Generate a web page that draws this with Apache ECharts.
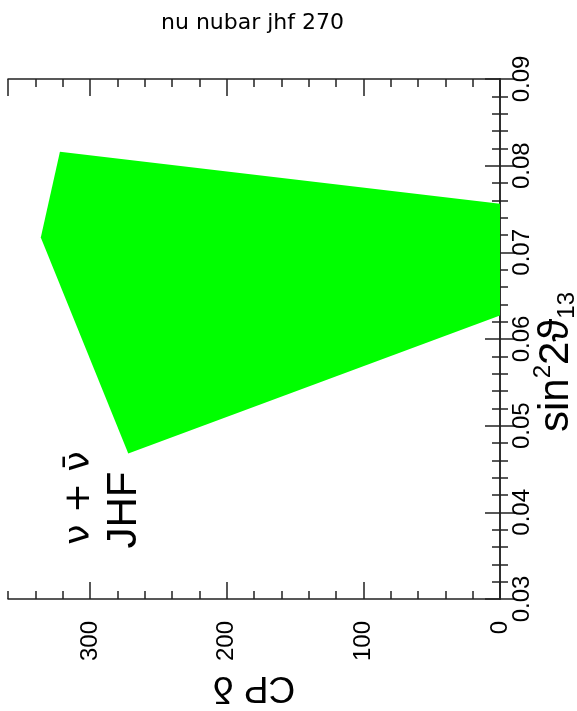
<!DOCTYPE html>
<html>
<head>
<meta charset="utf-8">
<script src="https://cdn.jsdelivr.net/npm/echarts@6/dist/echarts.min.js"></script>
<style>
html, body { margin: 0; padding: 0; background: #fff; }
#chart { width: 577px; height: 711px; }
</style>
</head>
<body>
<div id="chart"></div>
<script>
// allowed region boundary (CP phase in degrees vs sin^2 2theta13)
var cpDelta = [0, 272, 336, 322, 0]
var sin2t13 = [0.0627, 0.0468, 0.0717, 0.0816, 0.0756]

var cpLabels = [0, 100, 200, 300]
var sinLabels = [0.03, 0.04, 0.05, 0.06, 0.07, 0.08, 0.09]

var frameColor = '#222'
var labelFont = 'Liberation Sans, Arial, sans-serif'

function cpAxis (position, long, withLabels) {
  return {
    type: 'value',
    position: position,
    min: 0,
    max: 360,
    interval: long ? 100 : 20,
    inverse: true,
    z: 1,
    axisLine: { show: !long, lineStyle: { color: frameColor, width: 1.5 } },
    axisTick: { inside: true, length: long ? 17 : 8, lineStyle: { color: frameColor, width: 1.5 } },
    axisLabel: {
      show: withLabels,
      rotate: 90,
      margin: 22,
      color: '#000',
      fontFamily: labelFont,
      fontSize: 24,
      showMaxLabel: false,
      formatter: function (v) { return cpLabels.indexOf(v) >= 0 ? String(v) : '' }
    },
    splitLine: { show: false }
  }
}

function sinAxis (position, long, withLabels) {
  return {
    type: 'value',
    position: position,
    min: 0.03,
    max: 0.09,
    interval: long ? 0.01 : 0.002,
    z: 1,
    axisLine: { show: !long, lineStyle: { color: frameColor, width: 1.5 } },
    axisTick: { inside: true, length: long ? 15 : 8, lineStyle: { color: frameColor, width: 1.5 } },
    axisLabel: {
      show: withLabels,
      rotate: 90,
      margin: 10,
      color: '#000',
      fontFamily: labelFont,
      fontSize: 24,
      formatter: function (v) {
        var s = v.toFixed(2)
        return sinLabels.indexOf(parseFloat(s)) >= 0 ? s : ''
      }
    },
    splitLine: { show: false }
  }
}

var xAxes = [
  cpAxis('bottom', true, true),
  cpAxis('bottom', false, false),
  cpAxis('top', true, false),
  cpAxis('top', false, false)
]
xAxes[0].name = 'CP δ'
xAxes[0].nameLocation = 'middle'
xAxes[0].nameRotate = 180
xAxes[0].nameGap = 64
xAxes[0].nameTextStyle = { fontFamily: labelFont, fontSize: 37, color: '#000' }

var yAxes = [
  sinAxis('right', true, true),
  sinAxis('right', false, false),
  sinAxis('left', true, false),
  sinAxis('left', false, false)
]

var chart = echarts.init(document.getElementById('chart'))
chart.setOption({
  backgroundColor: '#fff',
  animation: false,
  title: {
    text: 'nu nubar jhf 270',
    left: 161,
    top: 12,
    padding: 0,
    textStyle: { fontFamily: 'DejaVu Sans', fontSize: 22, fontWeight: 'normal', color: '#000' }
  },
  grid: {
    left: 8,
    right: 77,
    top: 79,
    bottom: 112,
    containLabel: false,
    outerBoundsMode: 'none'
  },
  xAxis: xAxes,
  yAxis: yAxes,
  series: [{
    type: 'custom',
    xAxisIndex: 0,
    yAxisIndex: 0,
    data: cpDelta.map(function (d, i) { return [d, sin2t13[i]] }),
    renderItem: function (params, api) {
      if (params.dataIndex !== 0) return
      var pts = cpDelta.map(function (d, i) { return api.coord([d, sin2t13[i]]) })
      return {
        type: 'polygon',
        shape: { points: pts },
        style: { fill: '#00ff00' }
      }
    }
  }],
  graphic: [
    {
      type: 'text',
      x: 80,
      y: 498,
      rotation: Math.PI / 2,
      style: {
        text: 'ν + ν\u0304',
        fontFamily: 'DejaVu Sans',
        fontSize: 36,
        fill: '#000',
        align: 'center',
        verticalAlign: 'middle'
      }
    },
    {
      type: 'text',
      x: 124,
      y: 510,
      rotation: Math.PI / 2,
      style: {
        text: 'JHF',
        fontFamily: labelFont,
        fontSize: 42,
        fill: '#000',
        align: 'center',
        verticalAlign: 'middle'
      }
    },
    {
      type: 'text',
      x: 556,
      y: 362,
      rotation: Math.PI / 2,
      style: {
        text: '{a|sin}{sup|2}{a|2ϑ}{sub|13}',
        align: 'center',
        verticalAlign: 'middle',
        rich: {
          a: { fontFamily: labelFont, fontSize: 42, fill: '#000' },
          sup: { fontFamily: labelFont, fontSize: 24, fill: '#000', padding: [0, 0, 26, 0] },
          sub: { fontFamily: labelFont, fontSize: 24, fill: '#000', padding: [22, 0, 0, 0] }
        }
      }
    }
  ]
})
</script>
</body>
</html>
